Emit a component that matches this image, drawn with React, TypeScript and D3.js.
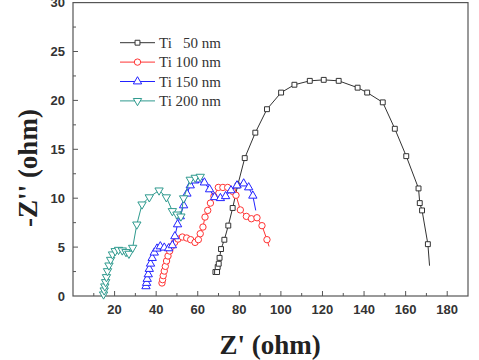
import { useEffect, useRef } from "react";
import * as d3 from "d3";

// Nyquist data: Z' (ohm) and -Z'' (ohm)
const ti50X = [68.5, 69.3, 69.6, 70.1, 70.5, 71.2, 72.8, 74.7, 76.8, 79.2, 82.6, 87.7, 93.3, 100.1, 106.5, 113.9, 120.6, 127.8, 136.9, 141.5, 149.0, 154.8, 160.3, 166.2, 166.8, 167.9, 170.7, 171.5];
const ti50Y = [2.45, 2.45, 2.96, 3.3, 3.9, 4.8, 5.75, 7.2, 9.0, 11.3, 14.1, 16.7, 19.1, 20.8, 21.6, 22.0, 22.1, 22.0, 21.3, 20.8, 19.8, 17.1, 14.3, 11.0, 9.5, 8.75, 5.3, 3.1];

const ti100X = [42.8, 43.1, 43.4, 43.9, 44.4, 45.0, 45.7, 46.5, 47.4, 48.9, 50.5, 52.6, 54.7, 56.6, 58.7, 60.3, 61.2, 62.5, 63.5, 64.8, 66.1, 67.8, 69.9, 72.1, 74.4, 76.8, 78.4, 80.5, 83.4, 85.8, 88.5, 90.9, 93.3, 94.3];
const ti100Y = [1.33, 1.67, 2.08, 2.55, 3.03, 3.58, 4.09, 4.6, 5.07, 5.48, 5.82, 6.03, 5.93, 5.76, 5.48, 5.76, 6.37, 7.05, 8.07, 8.75, 9.5, 10.2, 11.1, 11.1, 11.1, 10.7, 10.3, 8.8, 8.14, 7.9, 8.0, 7.19, 5.76, 5.07];

const ti150X = [35.1, 35.4, 35.7, 36.2, 36.7, 37.3, 38.1, 39.1, 40.4, 42.0, 43.9, 46.0, 47.8, 49.0, 50.3, 51.6, 53.2, 54.8, 56.4, 58.5, 60.9, 63.2, 65.7, 68.1, 70.9, 73.4, 76.0, 78.9, 82.1, 84.5, 86.5, 87.9];
const ti150Y = [0.99, 1.33, 1.74, 2.21, 2.76, 3.3, 3.88, 4.43, 4.84, 5.07, 4.94, 4.87, 5.18, 6.1, 7.32, 8.14, 9.26, 10.46, 11.3, 11.8, 11.9, 11.6, 10.9, 10.1, 10.0, 10.2, 10.8, 11.3, 11.5, 11.1, 10.25, 8.75];

const ti200X = [14.7, 15.0, 15.3, 15.7, 16.1, 16.6, 17.3, 18.1, 19.0, 20.3, 21.9, 23.7, 25.5, 26.9, 28.7, 30.7, 33.2, 36.7, 41.4, 44.9, 47.8, 50.0, 51.9, 53.2, 56.4, 58.8, 61.2, 62.5];
const ti200Y = [0.17, 0.58, 0.99, 1.43, 1.94, 2.55, 3.13, 3.71, 4.26, 4.6, 4.73, 4.67, 4.5, 4.33, 4.94, 7.32, 9.37, 10.1, 10.8, 10.1, 8.69, 8.34, 8.14, 10.0, 11.9, 12.1, 12.2, 12.2];

const seriesNames = ["Ti   50 nm", "Ti 100 nm", "Ti 150 nm", "Ti 200 nm"];
const xTicks = [20, 40, 60, 80, 100, 120, 140, 160, 180];
const yTicks = [0, 5, 10, 15, 20, 25, 30];

const W = 479;
const H = 360;

export default function App() {
  const svgRef = useRef<SVGSVGElement | null>(null);

  useEffect(() => {
    if (!svgRef.current) return;
    const svg = d3.select(svgRef.current);
    svg.selectAll("*").remove();

    const left = 73, right = 468, top = 2.6, bottom = 296;
    const x = d3.scaleLinear().domain([0, 190]).range([left, right]);
    const y = d3.scaleLinear().domain([0, 30]).range([bottom, top]);

    const series = [
      { name: seriesNames[0], xs: ti50X, ys: ti50Y, color: "#333333", shape: d3.symbolSquare, size: 24, rot: 0 },
      { name: seriesNames[1], xs: ti100X, ys: ti100Y, color: "#ff3333", shape: d3.symbolCircle, size: 32, rot: 0 },
      { name: seriesNames[2], xs: ti150X, ys: ti150Y, color: "#2222ff", shape: d3.symbolTriangle, size: 30, rot: 0 },
      { name: seriesNames[3], xs: ti200X, ys: ti200Y, color: "#2e9a8e", shape: d3.symbolTriangle, size: 30, rot: 180 },
    ];

    // frame
    svg.append("rect")
      .attr("x", left).attr("y", y(30))
      .attr("width", right - left).attr("height", bottom - y(30))
      .attr("fill", "none").attr("stroke", "#555").attr("stroke-width", 1.2);

    // ticks (inward, with minors)
    const gx = svg.append("g");
    d3.range(10, 190, 10).forEach((v) => {
      const major = v % 20 === 0;
      gx.append("line")
        .attr("x1", x(v)).attr("x2", x(v))
        .attr("y1", bottom).attr("y2", bottom - (major ? 5 : 3))
        .attr("stroke", "#555");
    });
    gx.selectAll("text").data(xTicks).enter().append("text")
      .attr("x", (d) => x(d)).attr("y", bottom + 18)
      .attr("text-anchor", "middle")
      .attr("font-family", "Liberation Sans, Arial, sans-serif")
      .attr("font-weight", "bold").attr("font-size", 13)
      .attr("fill", "#333")
      .text((d) => d);

    const gy = svg.append("g");
    d3.range(2.5, 30, 2.5).forEach((v) => {
      const major = v % 5 === 0;
      gy.append("line")
        .attr("x1", left).attr("x2", left + (major ? 5 : 3))
        .attr("y1", y(v)).attr("y2", y(v))
        .attr("stroke", "#555");
    });
    gy.selectAll("text").data(yTicks).enter().append("text")
      .attr("x", left - 8).attr("y", (d) => y(d))
      .attr("dy", "0.36em")
      .attr("text-anchor", "end")
      .attr("font-family", "Liberation Sans, Arial, sans-serif")
      .attr("font-weight", "bold").attr("font-size", 13)
      .attr("fill", "#333")
      .text((d) => d);

    // axis titles
    svg.append("text")
      .attr("x", 270).attr("y", 354)
      .attr("text-anchor", "middle")
      .attr("font-family", "Liberation Serif, Times New Roman, serif")
      .attr("font-weight", "bold").attr("font-size", 27)
      .attr("fill", "#222")
      .text("Z' (ohm)");
    svg.append("text")
      .attr("transform", "translate(37,168) rotate(-90)")
      .attr("text-anchor", "middle")
      .attr("font-family", "Liberation Serif, Times New Roman, serif")
      .attr("font-weight", "bold").attr("font-size", 27)
      .attr("fill", "#222")
      .text("-Z'' (ohm)");

    const line = d3.line<number>()
      .x((i) => i)
      .y((i) => i);

    series.forEach((s) => {
      const pts: [number, number][] = s.xs.map((v, i) => [x(v), y(s.ys[i])]);
      const g = svg.append("g");
      g.append("path")
        .attr("d", d3.line()(pts))
        .attr("fill", "none")
        .attr("stroke", s.color)
        .attr("stroke-width", 1);
      const sym = d3.symbol().type(s.shape).size(s.size);
      g.selectAll("path.m").data(pts.slice(0, -1)).enter().append("path")
        .attr("class", "m")
        .attr("d", sym)
        .attr("transform", (p) => `translate(${p[0]},${p[1]}) rotate(${s.rot})`)
        .attr("fill", "white")
        .attr("stroke", s.color)
        .attr("stroke-width", 1);
    });
    void line;

    // legend
    const legend = svg.append("g");
    series.forEach((s, i) => {
      const cy = 42.7 + i * 19.4;
      legend.append("line")
        .attr("x1", 120).attr("x2", 155).attr("y1", cy).attr("y2", cy)
        .attr("stroke", s.color).attr("stroke-width", 1);
      legend.append("path")
        .attr("d", d3.symbol().type(s.shape).size(s.size)())
        .attr("transform", `translate(137.5,${cy}) rotate(${s.rot})`)
        .attr("fill", "white").attr("stroke", s.color);
      legend.append("text")
        .attr("x", 159).attr("y", cy + 5)
        .attr("font-family", "Liberation Serif, Times New Roman, serif")
        .attr("font-size", 15)
        .attr("fill", "#333")
        .style("white-space", "pre")
        .text(s.name);
    });
  }, []);

  return (
    <svg
      ref={svgRef}
      width={W}
      height={H}
      style={{ position: "absolute", left: 0, top: 0, background: "white" }}
    />
  );
}
